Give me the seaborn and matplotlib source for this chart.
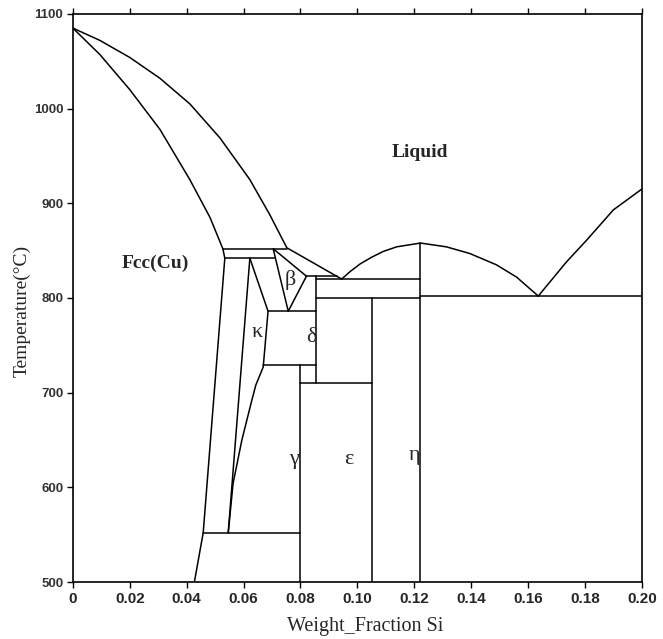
import matplotlib
matplotlib.use("Agg")
import matplotlib.pyplot as plt
import seaborn as sns
import pandas as pd

sns.set_theme(style="white")
plt.rcParams["font.family"] = ["Liberation Sans", "DejaVu Sans"]

# Cu-Si phase boundaries: weight fraction Si vs temperature (°C)
liquidus_x = [0.0, 0.0095, 0.0200, 0.0306, 0.0411, 0.0517, 0.0622, 0.0692, 0.0752, 0.0927, 0.0945]
liquidus_t = [1085, 1072, 1054, 1032, 1005, 969, 925, 888, 853, 823, 820]
solidus_x = [0.0, 0.0095, 0.0200, 0.0306, 0.0411, 0.0482, 0.0527]
solidus_t = [1085, 1057, 1020, 978, 925, 885, 852]
fcc_solvus_x = [0.0527, 0.0534, 0.0458, 0.0427]
fcc_solvus_t = [852, 842, 552, 500]
kappa_left_x = [0.0622, 0.0546]
kappa_left_t = [842, 552]
kappa_right_x = [0.0622, 0.0686, 0.0669, 0.0643, 0.0629, 0.0594, 0.0563, 0.0546]
kappa_right_t = [842, 786, 727, 708, 692, 650, 604, 552]
beta_x = [0.0757, 0.0704, 0.0821, 0.0757]
beta_t = [786, 852, 823, 786]
dome_x = [0.0945, 0.0975, 0.1010, 0.1050, 0.1090, 0.1138, 0.1222, 0.1313, 0.1395, 0.1489, 0.1560, 0.1636]
dome_t = [820, 828, 836, 843, 849, 854, 858, 854, 847, 835, 822, 802]
si_liquidus_x = [0.1636, 0.1735, 0.1806, 0.1900, 0.2000]
si_liquidus_t = [802, 838, 861, 893, 915]

# line compounds (vertical boundaries)
compound_x = [0.0798, 0.0855, 0.1053, 0.1222]
compound_top = [729, 823, 800, 858]
compound_bottom = [500, 710, 500, 500]

# invariant reactions (horizontal lines)
invariant_t = [852, 842, 823, 820, 802, 800, 786, 729, 710, 552]
invariant_x0 = [0.0527, 0.0534, 0.0821, 0.0855, 0.1222, 0.0855, 0.0686, 0.0669, 0.0798, 0.0458]
invariant_x1 = [0.0752, 0.0710, 0.0927, 0.1222, 0.2000, 0.1222, 0.0855, 0.0855, 0.1053, 0.0798]

phase_labels = ["Liquid", "Fcc(Cu)", "β", "κ", "δ", "γ", "ε", "η"]
label_x = [0.122, 0.0288, 0.0763, 0.0647, 0.0840, 0.0777, 0.0970, 0.1200]
label_t = [954, 837, 819, 764, 758, 629, 629, 634]

rows = []
def add(name, xs, ts):
    for x, t in zip(xs, ts):
        rows.append({"seg": name, "x": x, "T": t})

add("liquidus", liquidus_x, liquidus_t)
add("solidus", solidus_x, solidus_t)
add("fcc", fcc_solvus_x, fcc_solvus_t)
add("kl", kappa_left_x, kappa_left_t)
add("kr", kappa_right_x, kappa_right_t)
add("beta", beta_x, beta_t)
add("dome", dome_x, dome_t)
add("si", si_liquidus_x, si_liquidus_t)
for i, (x, a, b) in enumerate(zip(compound_x, compound_top, compound_bottom)):
    add(f"v{i}", [x, x], [a, b])
for i, (t, a, b) in enumerate(zip(invariant_t, invariant_x0, invariant_x1)):
    add(f"h{i}", [a, b], [t, t])
df = pd.DataFrame(rows)

fig = plt.figure(figsize=(6.63, 6.39), dpi=100)
ax = fig.add_axes([0.110, 0.0892, 0.858, 0.889])
sns.lineplot(data=df, x="x", y="T", units="seg", estimator=None, sort=False,
             color="black", lw=1.1, ax=ax, legend=False)

ax.set_xlim(0, 0.2)
ax.set_ylim(500, 1100)
xt = [0, 0.02, 0.04, 0.06, 0.08, 0.10, 0.12, 0.14, 0.16, 0.18, 0.20]
ax.set_xticks(xt)
ax.set_xticklabels(["0"] + [f"{v:.2f}" for v in xt[1:]], fontsize=11, fontweight="bold")
yt = [500, 600, 700, 800, 900, 1000, 1100]
ax.set_yticks(yt)
ax.set_yticklabels([str(v) for v in yt], fontsize=9.5, fontweight="bold", color="#333333")
ax.tick_params(axis="both", direction="out", length=4, width=1, color="black",
               top=True, bottom=True, left=True, right=False, pad=3)
ax.tick_params(axis="x", labeltop=False)
for s in ax.spines.values():
    s.set_color("black")
    s.set_linewidth(1.2)

serif = ["Liberation Serif", "DejaVu Serif"]
ax.set_xlabel("Weight_Fraction Si", fontsize=14.5, family=serif)
ax.xaxis.set_label_coords(0.513, -0.062)
ax.set_ylabel("Temperature(°C)", fontsize=14, family=serif)
ax.yaxis.set_label_coords(-0.074, 0.477)

for txt, x, t in zip(phase_labels, label_x, label_t):
    if len(txt) > 1:
        ax.text(x, t, txt, fontsize=14, family=serif, fontweight="bold", ha="center", va="center")
    else:
        ax.text(x, t, txt, fontsize=16, family=serif, ha="center", va="center")

fig.savefig("out.png", dpi=100)
